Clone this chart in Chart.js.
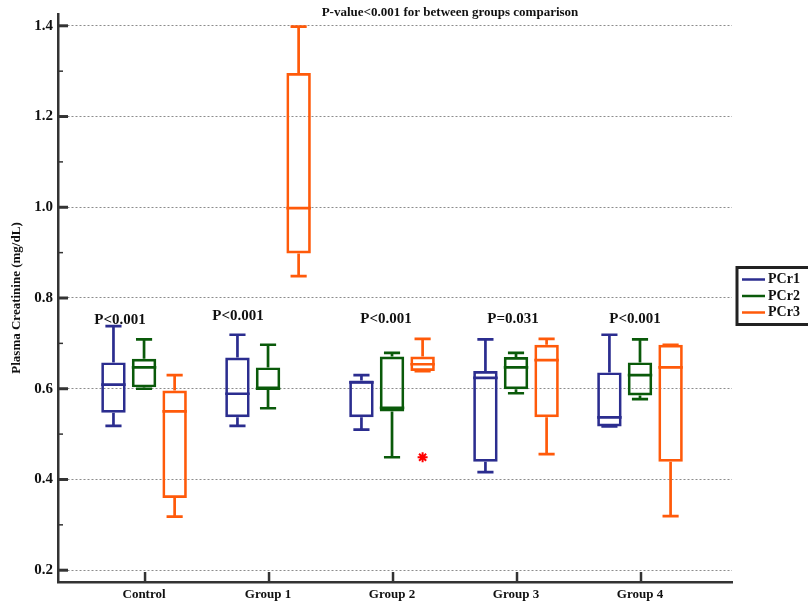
<!DOCTYPE html>
<html>
<head>
<meta charset="utf-8">
<script src="https://cdn.jsdelivr.net/npm/chart.js@4.4.0/dist/chart.umd.min.js"></script>
<style>
  html, body { margin: 0; padding: 0; background: #fff; }
  #wrap { width: 808px; height: 605px; position: relative; }
</style>
</head>
<body>
<div id="wrap"><canvas id="chart"></canvas></div>
<script>
// categories
const groups = ["Control", "Group 1", "Group 2", "Group 3", "Group 4"];

// box stats per group: [min, q1, median, q3, max]
const pcr1 = [
    [0.518, 0.547, 0.609, 0.658, 0.738],
    [0.518, 0.537, 0.589, 0.669, 0.719],
    [0.510, 0.537, 0.614, 0.618, 0.630],
    [0.416, 0.439, 0.624, 0.639, 0.709],
    [0.517, 0.517, 0.537, 0.636, 0.719],
];
const pcr2 = [
    [0.600, 0.603, 0.647, 0.666, 0.709],
    [0.557, 0.599, 0.600, 0.647, 0.697],
    [0.449, 0.550, 0.558, 0.671, 0.679],
    [0.590, 0.599, 0.647, 0.670, 0.679],
    [0.577, 0.585, 0.630, 0.658, 0.709],
];
const pcr3 = [
    [0.318, 0.359, 0.550, 0.596, 0.630],
    [0.848, 0.898, 0.998, 1.296, 1.398],
    [0.639, 0.639, 0.654, 0.671, 0.710],
    [0.456, 0.537, 0.663, 0.697, 0.710],
    [0.319, 0.439, 0.647, 0.697, 0.697],
];
const pcr3Outliers = [null, null, 0.449, null, null];

const seriesNames = ["PCr1", "PCr2", "PCr3"];
const seriesStats = [pcr1, pcr2, pcr3];
const seriesOutliers = [[], [], pcr3Outliers];

const pValues = ["P<0.001", "P<0.001", "P<0.001", "P=0.031", "P<0.001"];
const chartTitle = "P-value<0.001 for between groups comparison";
const yTitle = "Plasma Creatinine (mg/dL)";

const colors = ["#2b2d8f", "#0a5a0a", "#ff5a0a"];
const FONT = "'Liberation Serif', 'Times New Roman', serif";

Chart.defaults.font.family = FONT;
Chart.defaults.font.weight = "bold";
Chart.defaults.color = "#111";

const isMajor = v => Math.abs(Math.round(v * 10) % 2) === 0;

// whiskers, medians, outliers
const boxExtras = {
    id: "boxExtras",
    afterDatasetsDraw(chart) {
        const ctx = chart.ctx;
        const y = chart.scales.y;
        seriesStats.forEach((stats, i) => {
            const meta = chart.getDatasetMeta(i);
            meta.data.forEach((bar, g) => {
                const [mn, q1, md, q3, mx] = stats[g];
                const left = bar.x - bar.width / 2;
                const right = bar.x + bar.width / 2;
                const cap = bar.width * 0.33;
                ctx.save();
                ctx.strokeStyle = colors[i];
                ctx.lineWidth = 2.7;
                ctx.beginPath();
                ctx.moveTo(bar.x, y.getPixelForValue(q3));
                ctx.lineTo(bar.x, y.getPixelForValue(mx));
                ctx.moveTo(bar.x, y.getPixelForValue(q1));
                ctx.lineTo(bar.x, y.getPixelForValue(mn));
                ctx.moveTo(bar.x - cap, y.getPixelForValue(mx));
                ctx.lineTo(bar.x + cap, y.getPixelForValue(mx));
                ctx.moveTo(bar.x - cap, y.getPixelForValue(mn));
                ctx.lineTo(bar.x + cap, y.getPixelForValue(mn));
                ctx.moveTo(left, y.getPixelForValue(md));
                ctx.lineTo(right, y.getPixelForValue(md));
                ctx.stroke();

                const o = seriesOutliers[i][g];
                if (o != null) {
                    const py = y.getPixelForValue(o);
                    const r = 5;
                    ctx.strokeStyle = "#ff0000";
                    ctx.lineWidth = 2;
                    ctx.beginPath();
                    for (let k = 0; k < 4; k++) {
                        const a = k * Math.PI / 4;
                        ctx.moveTo(bar.x - r * Math.cos(a), py - r * Math.sin(a));
                        ctx.lineTo(bar.x + r * Math.cos(a), py + r * Math.sin(a));
                    }
                    ctx.stroke();
                }
                ctx.restore();
            });
        });
    },
    afterDraw(chart) {
        const ctx = chart.ctx;
        const {x, y} = chart.scales;
        const area = chart.chartArea;
        ctx.save();

        // inward tick marks
        ctx.strokeStyle = "#333";
        y.ticks.forEach(t => {
            const py = y.getPixelForValue(t.value);
            const major = isMajor(t.value);
            ctx.lineWidth = major ? 3 : 1.5;
            ctx.beginPath();
            ctx.moveTo(area.left, py);
            ctx.lineTo(area.left + (major ? 10 : 5), py);
            ctx.stroke();
        });
        ctx.lineWidth = 2.5;
        x.ticks.forEach(t => {
            const px = x.getPixelForValue(t.value) + 1;
            ctx.beginPath();
            ctx.moveTo(px, area.bottom);
            ctx.lineTo(px, area.bottom - 10);
            ctx.stroke();
        });

        // title
        ctx.fillStyle = "#111";
        ctx.textAlign = "center";
        ctx.textBaseline = "alphabetic";
        ctx.font = "bold 13px " + FONT;
        ctx.fillText(chartTitle, 450, 15.5);

        // p-value labels
        const dx = [-24, -30, -6, -3, -5];
        const dy = [1, -3, 0, 0, 0];
        ctx.font = "bold 15px " + FONT;
        pValues.forEach((p, g) => {
            ctx.fillText(p, x.getPixelForValue(g) + dx[g], y.getPixelForValue(0.745) + dy[g]);
        });

        // legend
        ctx.fillStyle = "#fff";
        ctx.fillRect(737, 267.5, 90, 57);
        ctx.strokeStyle = "#222";
        ctx.lineWidth = 3;
        ctx.strokeRect(737, 267.5, 90, 57);
        ctx.font = "bold 14px " + FONT;
        ctx.textAlign = "left";
        ctx.textBaseline = "middle";
        seriesNames.forEach((name, i) => {
            const ry = 279.5 + i * 16.5;
            ctx.strokeStyle = colors[i];
            ctx.lineWidth = 2.5;
            ctx.beginPath();
            ctx.moveTo(742, ry);
            ctx.lineTo(765, ry);
            ctx.stroke();
            ctx.fillStyle = "#111";
            ctx.fillText(name, 768, ry);
        });
        ctx.restore();
    }
};

const datasets = seriesStats.map((stats, i) => ({
    type: "bar",
    label: seriesNames[i],
    data: stats.map((s, g) => ({ x: g, y: [s[1], s[3]] })),
    backgroundColor: "rgba(0,0,0,0)",
    borderColor: colors[i],
    borderWidth: 2.7,
    borderSkipped: false,
    categoryPercentage: 0.74,
    barPercentage: 0.8,
}));

new Chart(document.getElementById("chart"), {
    type: "bar",
    data: { datasets },
    options: {
        responsive: true,
        maintainAspectRatio: false,
        animation: false,
        layout: { padding: { top: 10, right: 76, left: 0, bottom: 0 } },
        plugins: {
            legend: { display: false },
            tooltip: { enabled: false },
        },
        scales: {
            x: {
                type: "linear",
                offset: false,
                min: -0.694,
                max: 4.742,
                grid: { display: false, drawTicks: false, offset: false },
                border: { display: true, width: 2.5, color: "#333" },
                ticks: {
                    stepSize: 1,
                    includeBounds: false,
                    autoSkip: false,
                    maxRotation: 0,
                    padding: 5,
                    font: { size: 13, weight: "bold" },
                    callback: v => groups[v] ?? "",
                },
                afterFit: s => { s.height = 23; },
            },
            y: {
                min: 0.174,
                max: 1.426,
                grid: {
                    drawTicks: false,
                    lineWidth: 1,
                    color: c => (c.tick && isMajor(c.tick.value)) ? "#8c8c8c" : "rgba(0,0,0,0)",
                },
                border: { width: 2.5, color: "#333", dash: [2, 2] },
                ticks: {
                    stepSize: 0.1,
                    includeBounds: false,
                    autoSkip: false,
                    padding: 5,
                    font: { size: 15, weight: "bold" },
                    callback: v => isMajor(v) ? v.toFixed(1) : "",
                },
                title: {
                    display: true,
                    text: yTitle,
                    font: { size: 13, weight: "bold" },
                    padding: { top: 9, bottom: 0 },
                },
                afterFit: s => { s.width = 58; },
            },
        },
    },
    plugins: [boxExtras],
});
</script>
</body>
</html>
